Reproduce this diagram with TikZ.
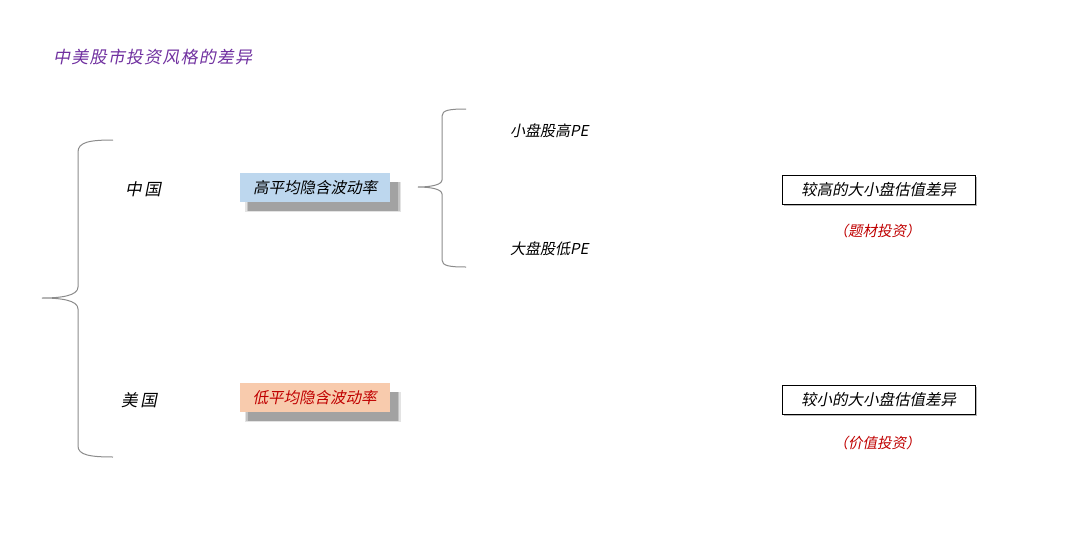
\documentclass[tikz,border=0pt]{standalone}
\usepackage{fontspec}
\newfontfamily\cjk[FakeSlant=0.2]{Noto Sans CJK SC}
\usetikzlibrary{shadows}
\definecolor{titlepurple}{HTML}{7030A0}
\definecolor{boxblue}{HTML}{BDD7EE}
\definecolor{boxpeach}{HTML}{F8CBAD}
\definecolor{darkred}{HTML}{C00000}
\definecolor{bracegray}{HTML}{8C8C8C}
\tikzset{
  cjktext/.style={font=\cjk\fontsize{#1}{#1}\selectfont, inner sep=0pt},
  brace/.style={draw=bracegray, line width=1pt},
  softshadow/.style={
    general shadow={shadow xshift=8pt, shadow yshift=-9pt, shadow scale=1.04, fill=black!60, opacity=0.18},
    general shadow={shadow xshift=8pt, shadow yshift=-9pt, shadow scale=1.02, fill=black!60, opacity=0.25},
    general shadow={shadow xshift=8pt, shadow yshift=-9pt, fill=black!60, opacity=0.35}},
  volbox/.style={minimum width=150pt, minimum height=29pt, inner sep=0pt, softshadow,
    font=\cjk\fontsize{15.5}{16}\selectfont},
  valbox/.style={draw=black, line width=0.8pt, fill=white, minimum width=193pt, minimum height=29pt, inner sep=0pt,
    drop shadow={shadow xshift=1.5pt, shadow yshift=-1.5pt, fill=black!40, opacity=0.7},
    font=\cjk\fontsize{15.5}{16}\selectfont},
}
\begin{document}
\begin{tikzpicture}[x=1pt,y=-1pt]
\useasboundingbox[fill=white] (0,0) rectangle (1080,560);
% title
\node[cjktext=17, text=titlepurple, anchor=west] (title) at (53,57) {中\hspace{1.2pt}美\hspace{1.2pt}股\hspace{1.2pt}市\hspace{1.2pt}投\hspace{1.2pt}资\hspace{1.2pt}风\hspace{1.2pt}格\hspace{1.2pt}的\hspace{1.2pt}差\hspace{1.2pt}异};
% big brace
\coordinate (bigtop) at (113,140);
\coordinate (bigtip) at (42,298);
\coordinate (bigbot) at (113,457);
\draw[brace] (bigtop) .. controls (90,140) and (78,142) .. (78,152)
  -- (78,287) .. controls (78,296) and (60,298) .. (bigtip)
  .. controls (60,298) and (78,300) .. (78,309)
  -- (78,446) .. controls (78,455) and (90,457) .. (bigbot);
% countries
\node[cjktext=16.5] (cn) at (143,189) {中\,国};
\node[cjktext=16.5] (us) at (139,400) {美\,国};
% vol boxes
\node[volbox, fill=boxblue] (hivol) at (315,187.5) {高平均隐含波动率};
\node[volbox, fill=boxpeach, text=darkred] (lovol) at (314.5,397.5) {低平均隐含波动率};
% small brace
\coordinate (smtop) at (466,109);
\coordinate (smtip) at (418,187);
\coordinate (smbot) at (466,267);
\draw[brace] (smtop) .. controls (450,109) and (442,110) .. (442,116)
  -- (442,180) .. controls (442,185) and (430,187) .. (smtip)
  .. controls (430,187) and (442,189) .. (442,194)
  -- (442,260) .. controls (442,266) and (450,267) .. (smbot);
% PE labels
\node[cjktext=15, anchor=west] (smallpe) at (510,131) {小盘股高PE};
\node[cjktext=15, anchor=west] (largepe) at (510,249) {大盘股低PE};
% valuation boxes
\node[valbox] (hidiff) at (878.5,189.5) {较高的大小盘估值差异};
\node[cjktext=14.5, text=darkred] (theme) at (877,231) {（题材投资）};
\node[valbox] (lodiff) at (878.5,399.5) {较小的大小盘估值差异};
\node[cjktext=14.5, text=darkred] (value) at (877,443) {（价值投资）};
\end{tikzpicture}
\end{document}
